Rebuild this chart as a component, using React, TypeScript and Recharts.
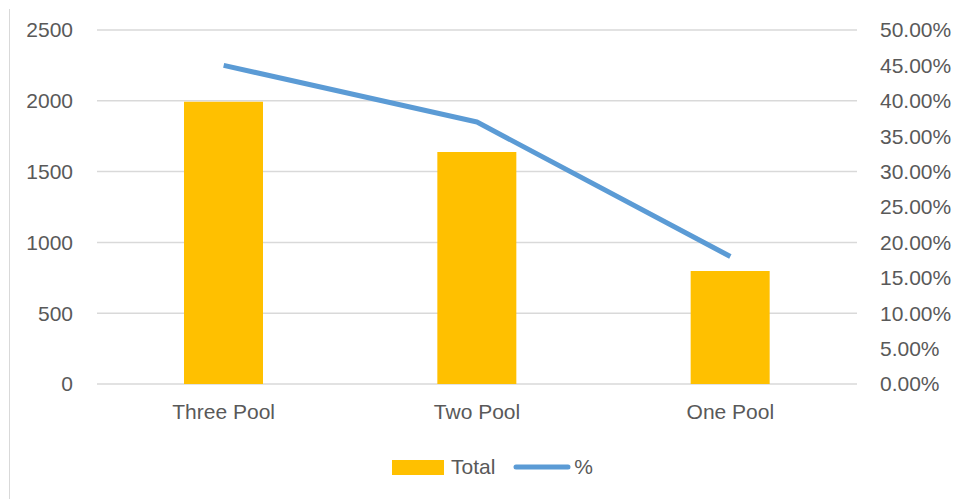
import React from "react";
import {
  ComposedChart,
  Bar,
  Line,
  XAxis,
  YAxis,
  CartesianGrid,
  Legend,
} from "recharts";

const categories = ["Three Pool", "Two Pool", "One Pool"];
const totals = [1993, 1638, 798];
const percents = [0.45, 0.37, 0.18];
const leftTicks = [0, 500, 1000, 1500, 2000, 2500];
const rightTicks = [0, 0.05, 0.1, 0.15, 0.2, 0.25, 0.3, 0.35, 0.4, 0.45, 0.5];
const legendOrder = ["Total", "%"];

const data = categories.map((name, i) => ({
  name,
  Total: totals[i],
  pct: percents[i],
}));

const FONT = "'Liberation Sans', Arial, sans-serif";
const TEXT = "#595959";
const BAR = "#FFC000";
const LINE = "#5B9BD5";
const GRID = "#D9D9D9";

const tickStyle = { fill: TEXT, fontSize: 21, fontFamily: FONT };

const renderLegend = (props: any) => {
  const payload = [...(props.payload || [])].sort(
    (a: any, b: any) => legendOrder.indexOf(a.value) - legendOrder.indexOf(b.value)
  );
  return (
    <div
      style={{
        height: 30,
        display: "flex",
        alignItems: "center",
        paddingLeft: 384,
        fontFamily: FONT,
        fontSize: 21,
        color: TEXT,
      }}
    >
      {payload.map((p: any, i: number) => (
        <div
          key={i}
          style={{ display: "flex", alignItems: "center", marginRight: 18 }}
        >
          {p.type === "line" ? (
            <svg width={58} height={10} style={{ marginRight: 3 }}>
              <line
                x1={3}
                y1={5}
                x2={55}
                y2={5}
                stroke={LINE}
                strokeWidth={5}
                strokeLinecap="round"
              />
            </svg>
          ) : (
            <div
              style={{
                width: 52,
                height: 15,
                background: BAR,
                marginRight: 7,
              }}
            />
          )}
          <span>{p.value}</span>
        </div>
      ))}
    </div>
  );
};

export default function App() {
  return (
    <div
      style={{
        position: "relative",
        width: 956,
        height: 499,
        overflow: "hidden",
      }}
    >
      <style>{"html,body{margin:0;padding:0;overflow:hidden;}"}</style>
      <div
        style={{
          position: "absolute",
          left: 9,
          top: 9,
          width: 1,
          height: 490,
          background: GRID,
        }}
      />
      <div style={{ position: "absolute", left: 8, top: 8 }}>
        <ComposedChart
          width={948}
          height={483}
          data={data}
          margin={{ top: 22, right: 0, bottom: 9, left: 0 }}
        >
          <CartesianGrid
            yAxisId="left"
            vertical={false}
            stroke={GRID}
            strokeWidth={1.5}
          />
          <XAxis
            dataKey="name"
            height={68}
            axisLine={false}
            tickLine={false}
            tickSize={0}
            tickMargin={20}
            tick={tickStyle}
          />
          <YAxis
            yAxisId="left"
            orientation="left"
            width={89}
            domain={[0, 2500]}
            ticks={leftTicks}
            axisLine={false}
            tickLine={false}
            tickSize={0}
            tickMargin={24}
            tick={tickStyle}
            interval={0}
          />
          <YAxis
            yAxisId="right"
            orientation="right"
            width={99}
            domain={[0, 0.5]}
            ticks={rightTicks}
            axisLine={false}
            tickLine={false}
            tickSize={0}
            tickMargin={23}
            tick={{ ...tickStyle, textAnchor: "start" }}
            interval={0}
            tickFormatter={(v: number) => (v * 100).toFixed(2) + "%"}
          />
          <Legend
            verticalAlign="bottom"
            height={30}
            content={renderLegend}
            wrapperStyle={{ left: 0, width: 948 }}
          />
          <Bar
            yAxisId="left"
            dataKey="Total"
            name="Total"
            fill={BAR}
            barSize={79}
            legendType="rect"
            isAnimationActive={false}
          />
          <Line
            yAxisId="right"
            dataKey="pct"
            name="%"
            type="linear"
            stroke={LINE}
            strokeWidth={5}
            strokeLinejoin="round"
            dot={false}
            activeDot={false}
            legendType="line"
            isAnimationActive={false}
          />
        </ComposedChart>
      </div>
    </div>
  );
}
